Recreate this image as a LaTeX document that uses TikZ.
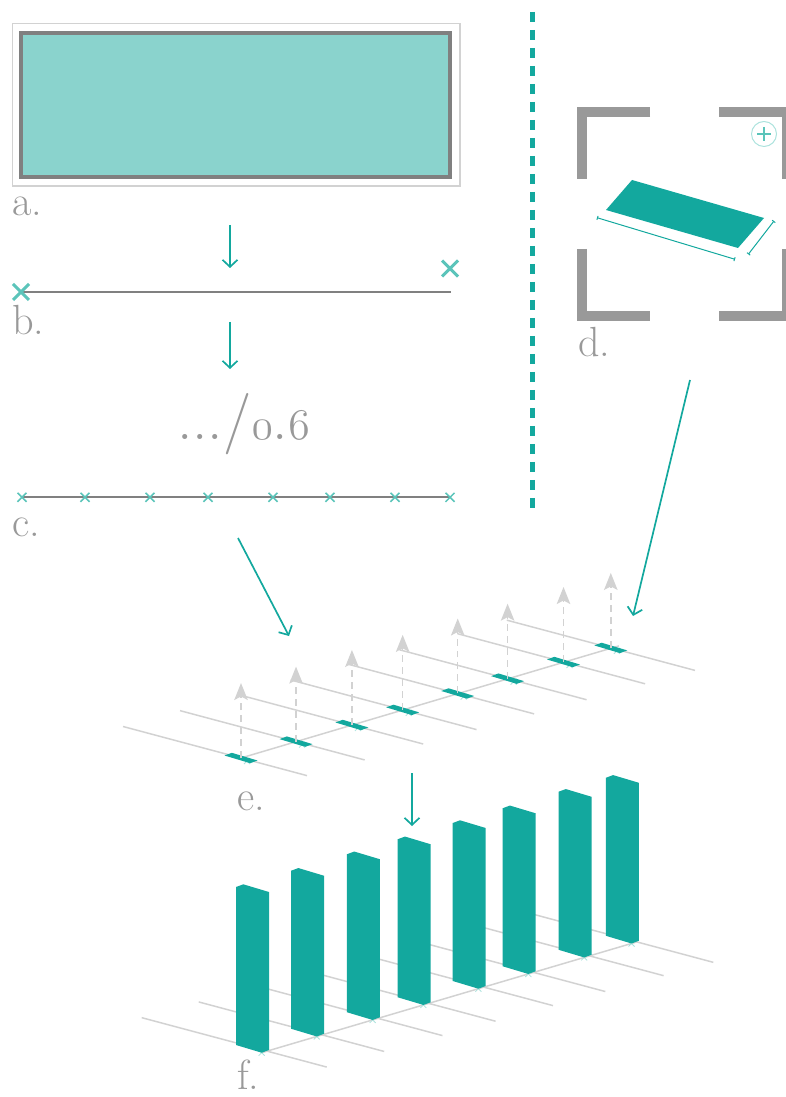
\documentclass[tikz,border=0pt]{standalone}
\usepackage{xcolor}
\usepackage{tikz}
\usetikzlibrary{arrows.meta, calc}

\definecolor{verde}{RGB}{19,168,158}
\definecolor{verdeclaro}{RGB}{138,211,205}
\definecolor{verdemedio}{RGB}{91,196,186}
\definecolor{verdepalido}{RGB}{172,226,221}
\definecolor{cinza}{RGB}{128,128,128}
\definecolor{cinzaclaro}{RGB}{210,210,210}
\definecolor{cinzatexto}{RGB}{153,153,153}

\newcommand{\velho}[1]{{\usefont{OML}{cmm}{m}{it}#1}}
\newcommand{\xis}[3]{\draw[draw=verdemedio, line width=#3] ($(#1)+(-#2,-#2)$) -- ($(#1)+(#2,#2)$) ($(#1)+(-#2,#2)$) -- ($(#1)+(#2,-#2)$);}

\begin{document}
\begin{tikzpicture}[
        x=0.02cm, y=-0.02cm,
        rotulo/.style={anchor=base west, inner sep=0pt, text=cinzatexto, font=\fontsize{24}{28}\selectfont},
        seta/.style={draw=verde, line width=0.034cm, -{Straight Barb[length=0.14cm, width=0.3cm]}},
        grade/.style={draw=cinzaclaro, line width=0.03cm},
        tracejada/.style={draw=cinzaclaro, line width=0.03cm, dash pattern=on 0.14cm off 0.1cm,
            -{Stealth[length=0.34cm, width=0.27cm, inset=0.07cm, fill=cinzaclaro]}},
        canto/.style={draw=cinzatexto, line width=0.2cm, line join=miter},
        cota/.style={draw=verde, line width=0.02cm, {Bar[width=0.08cm]}-{Bar[width=0.08cm]}},
        divisoria/.style={draw=verde, line width=0.1cm, dash pattern=on 0.2cm off 0.16cm}
    ]
    \useasboundingbox (0,0) rectangle (785,1097);

    % a.
    \draw[draw=cinzaclaro, line width=0.034cm] (12.5,23.5) rectangle (460,186);
    \draw[draw=cinza, fill=verdeclaro, line width=0.08cm] (21.3,33) rectangle (450.3,177);
    \node[rotulo] (labA) at (12,216) {a.};

    % b.
    \coordinate (bIni) at (22,292.5);
    \coordinate (bFim) at (451,292.5);
    \draw[draw=cinza, line width=0.04cm] (bIni) -- (bFim);
    \coordinate (xb1) at (21,292);
    \coordinate (xb2) at (450,268.5);
    \xis{xb1}{8}{0.06cm}
    \xis{xb2}{8}{0.06cm}
    \node[rotulo] (labB) at (12,335) {b.};

    % escala
    \node[anchor=base, inner sep=0pt, text=cinzatexto, font=\fontsize{35}{40}\selectfont] (escala) at (243.5,439)
        {.../\velho{0}.\velho{6}};

    % c.
    \coordinate (cIni) at (22,497.3);
    \coordinate (cFim) at (450,497.3);
    \draw[draw=cinza, line width=0.04cm] (cIni) -- (cFim);
    \foreach \px [count=\i] in {22,85,150,208,273,330,395,450} {
        \coordinate (xc\i) at (\px,497.3);
        \xis{xc\i}{4.5}{0.03cm}
    }
    \node[rotulo] (labC) at (12,536.7) {c.};

    % divisoria
    \coordinate (divTopo) at (532,12);
    \coordinate (divBase) at (532,508);
    \draw[divisoria] (divTopo) -- (divBase);

    % d.
    \draw[canto] (650,112) -- (582,112) -- (582,179);
    \draw[canto] (719,112) -- (787,112) -- (787,179);
    \draw[canto] (582,249) -- (582,316) -- (650,316);
    \draw[canto] (787,249) -- (787,316) -- (719,316);
    \node[circle, draw=verdepalido, line width=0.02cm, minimum size=0.5cm, inner sep=0pt] (lupa) at (764,134) {};
    \draw[draw=verdemedio, line width=0.04cm] ($(lupa.center)+(-7,0)$) -- ($(lupa.center)+(7,0)$)
        ($(lupa.center)+(0,-7)$) -- ($(lupa.center)+(0,7)$);
    \fill[verde] (632,180) -- (764,218) -- (738,248) -- (606,210) -- cycle;
    \draw[cota] (597,217.7) -- (735,259.3);
    \draw[cota] (748.3,254.3) -- (774,221);
    \node[rotulo] (labD) at (578,356.7) {d.};

    % e.
    \foreach \t [count=\i from 0] in {0,64,129,188,252,310,375,430} {
        \coordinate (p\i) at ({241+0.86*\t},{758-0.256*\t});
        \coordinate (s\i) at ({241+0.86*\t},{683-0.256*\t});
    }
    \foreach \i in {0,...,7} {
        \draw[grade] ($(p\i)+({-118+2*\i},{(-118+2*\i)*0.267})$) -- ($(p\i)+({66+2.6*\i},{(66+2.6*\i)*0.267})$);
    }
    \draw[grade] (p0) -- ($(p7)+(8,-2)$);
    \foreach \i in {0,...,7} {
        \draw[draw=verdepalido, line width=0.016cm] ($(p\i)+(3,0)$) -- ($(p\i)+(9,6)$) ($(p\i)+(3,6)$) -- ($(p\i)+(9,0)$);
        \fill[verde] ($(p\i)+(-16.5,-2.5)$) -- ++(25.7,7.7) -- ++(7.3,-2.7) -- ++(-25.7,-7.7) -- cycle;
        \draw[tracejada] (p\i) -- (s\i);
    }
    \node[rotulo] (labE) at (237,810) {e.};

    % f.
    \foreach \t [count=\i from 0] in {0,64,129,188,252,310,375,430} {
        \coordinate (q\i) at ({261.7+0.86*\t},{1052.7-0.254*\t});
    }
    \foreach \i in {0,...,7} {
        \draw[grade] ($(q\i)+({-120+2*\i},{(-120+2*\i)*0.267-3})$) -- ($(q\i)+({65+2.4*\i},{(65+2.4*\i)*0.267-3})$);
    }
    \draw[grade] (q0) -- ($(q7)+(5,-1.5)$);
    \foreach \i in {0,...,7} {
        \draw[draw=verdepalido, line width=0.016cm] ($(q\i)+(-3,-3)$) -- ($(q\i)+(3,3)$) ($(q\i)+(-3,3)$) -- ($(q\i)+(3,-3)$);
        \fill[verde] ($(q\i)+(-25.7,-7.7)$) -- (q\i) -- ++(7.3,-2.7) -- ++(0,-158) -- ++(-25.7,-7.7) -- ++(-7.3,2.7) -- cycle;
    }
    \node[rotulo] (labF) at (237,1089) {f.};

    % Conexoes
    \coordinate (aSai) at (230,225);
    \coordinate (bEntra) at (230,268);
    \coordinate (bSai) at (230,322);
    \coordinate (cEntra) at (230,369);
    \coordinate (cSai) at (238,538);
    \coordinate (eEntraC) at (289,636);
    \coordinate (dSai) at (690,380);
    \coordinate (eEntraD) at (633,616);
    \coordinate (eSai) at (412,773);
    \coordinate (fEntra) at (412,826);
    \draw[seta] (aSai) -- (bEntra);
    \draw[seta] (bSai) -- (cEntra);
    \draw[seta] (cSai) -- (eEntraC);
    \draw[seta] (dSai) -- (eEntraD);
    \draw[seta] (eSai) -- (fEntra);
\end{tikzpicture}
\end{document}
